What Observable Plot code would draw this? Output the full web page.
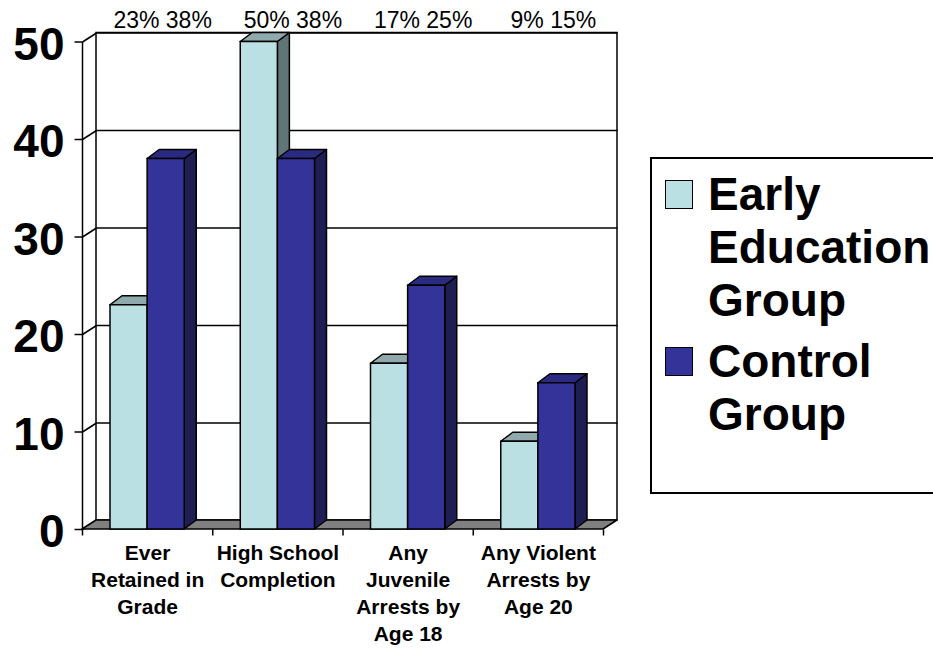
<!DOCTYPE html>
<html>
<head>
<meta charset="utf-8">
<script src="https://cdn.jsdelivr.net/npm/d3@7"></script>
<script src="https://cdn.jsdelivr.net/npm/@observablehq/plot@0.6"></script>
<style>
  html, body { margin: 0; padding: 0; background: #fff; overflow: hidden; }
  #wrap { position: relative; width: 933px; height: 648px; overflow: hidden; font-family: "Liberation Sans", Arial, sans-serif; }
  #legend { position: absolute; left: 650px; top: 157px; width: 320px; height: 337px; border: 2px solid #000; box-sizing: border-box; background: #fff; }
  .item { position: absolute; left: 13px; display: flex; align-items: flex-start; }
  .sw { width: 28px; height: 29px; box-sizing: border-box; border: 1.5px solid #000; margin-top: 12px; margin-right: 15px; flex: none; }
  .lab { font-size: 46px; font-weight: bold; line-height: 53px; color: #000; white-space: nowrap; }
</style>
</head>
<body>
<div id="wrap">
  <div id="chart"></div>
  <div id="legend"></div>
</div>
<script>
// ---- data ----
const categories = ["Ever\nRetained in\nGrade", "High School\nCompletion", "Any\nJuvenile\nArrests by\nAge 18", "Any Violent\nArrests by\nAge 20"];
const seriesNames = ["Early Education Group", "Control Group"];
const earlyValues = [23, 50, 17, 9];
const controlValues = [38, 38, 25, 15];
const topLabels = ["23% 38%", "50% 38%", "17% 25%", "9% 15%"];
const yTicks = [0, 10, 20, 30, 40, 50];

// ---- styles / layout ----
const W = 933, H = 648;
const mL = 82, mR = 330, mT = 41.5, mB = 119;
const kx = (W - mL - mR) / categories.length; // px per x unit
const ky = (H - mT - mB) / 50;                // px per y unit
const WDX = 14 / kx, WDY = 9 / ky;            // wall depth (data units)
const BDX = 12 / kx, BDY = 9 / ky;            // bar depth (data units)
const barW = 0.285;
const colors = {
  early:   {front: "#BBE0E3", top: "#8FA9AC", side: "#5F7577"},
  control: {front: "#333399", top: "#2A2A80", side: "#1E1E52"}
};
const font = "Liberation Sans, Arial, sans-serif";

// ---- derived tables ----
function barsFor(values, offset, key) {
  return values.map((v, i) => ({id: key + i, i, v, xl: i + 0.5 + offset, xr: i + 0.5 + offset + barW}));
}
const earlyBars = barsFor(earlyValues, -barW, "e");
const controlBars = barsFor(controlValues, 0, "c");
const sidePts = bars => bars.flatMap(b => [
  {id: b.id, x: b.xr, y1: 0, y2: b.v},
  {id: b.id, x: b.xr + BDX, y1: BDY, y2: b.v + BDY}
]);
const topPts = bars => bars.flatMap(b => [
  {id: b.id, y: b.v, x1: b.xl, x2: b.xr},
  {id: b.id, y: b.v + BDY, x1: b.xl + BDX, x2: b.xr + BDX}
]);
function barMarks(bars, c) {
  return [
    Plot.area(sidePts(bars), {x1: "x", x2: "x", y1: "y1", y2: "y2", z: "id", fill: c.side, stroke: "#000", strokeWidth: 1.5}),
    Plot.area(topPts(bars), {x1: "x1", x2: "x2", y1: "y", y2: "y", z: "id", fill: c.top, stroke: "#000", strokeWidth: 1.5}),
    Plot.rect(bars, {x1: "xl", x2: "xr", y1: 0, y2: "v", fill: c.front, stroke: "#000", strokeWidth: 1.5})
  ];
}
const nCat = categories.length;
const catIdx = d3.range(nCat);
const boundaries = d3.range(nCat + 1);

const chart = Plot.plot({
  width: W, height: H,
  marginLeft: mL, marginRight: mR, marginTop: mT, marginBottom: mB,
  x: {domain: [0, nCat], axis: null},
  y: {domain: [0, 50], axis: null},
  style: {background: "transparent", overflow: "visible"},
  marks: [
    // back wall
    Plot.rect([0], {x1: WDX, x2: nCat + WDX, y1: WDY, y2: 50 + WDY, fill: "#fff", stroke: "#000", strokeWidth: 1.5}),
    // gridlines on back wall
    Plot.link(yTicks.filter(v => v > 0), {x1: WDX, x2: nCat + WDX, y1: v => v + WDY, y2: v => v + WDY, stroke: "#000", strokeWidth: 1.5}),
    // gridlines on left wall
    Plot.link(yTicks, {x1: 0, x2: WDX, y1: v => v, y2: v => v + WDY, stroke: "#000", strokeWidth: 1.5}),
    // left wall front edge (axis line)
    Plot.link([0], {x1: 0, x2: 0, y1: 0, y2: 50, stroke: "#000", strokeWidth: 1.5}),
    // floor
    Plot.area([{y: 0, x1: 0, x2: nCat}, {y: WDY, x1: WDX, x2: nCat + WDX}], {x1: "x1", x2: "x2", y1: "y", y2: "y", fill: "#808080", stroke: "#000", strokeWidth: 1.5}),
    // y ticks
    Plot.link(yTicks, {x1: 0, x2: -8 / kx, y1: v => v, y2: v => v, stroke: "#000", strokeWidth: 1.5}),
    Plot.text(yTicks, {x: 0, y: v => v, text: v => String(v), textAnchor: "end", dx: -18, dy: 3, fontSize: 46, fontWeight: "bold", fontFamily: font, fill: "#000"}),
    // x ticks
    Plot.link(boundaries, {x1: d => d, x2: d => d, y1: 0, y2: -6 / ky, stroke: "#000", strokeWidth: 1.5}),
    Plot.text(catIdx, {x: i => i + 0.5, y: 0, text: i => categories[i], lineAnchor: "top", dy: 11, lineHeight: 1.29, fontSize: 21, fontWeight: "bold", fontFamily: font, fill: "#000"}),
    // bars
    ...barMarks(earlyBars, colors.early),
    ...barMarks(controlBars, colors.control),
    // top labels
    Plot.text(catIdx, {x: i => i + 0.5, y: 50, text: i => topLabels[i], dx: 15, dy: -21, fontSize: 23, fontFamily: font, fill: "#000"})
  ]
});
document.getElementById("chart").appendChild(chart);

// legend
const legend = document.getElementById("legend");
const legendItems = [
  {name: seriesNames[0], color: colors.early.front, top: 8.6},
  {name: seriesNames[1], color: colors.control.front, top: 175.6}
];
const wrapLines = {"Early Education Group": "Early<br>Education<br>Group", "Control Group": "Control<br>Group"};
for (const it of legendItems) {
  const d = document.createElement("div");
  d.className = "item";
  d.style.top = it.top + "px";
  d.innerHTML = `<div class="sw" style="background:${it.color}"></div><div class="lab">${wrapLines[it.name]}</div>`;
  legend.appendChild(d);
}
</script>
</body>
</html>
